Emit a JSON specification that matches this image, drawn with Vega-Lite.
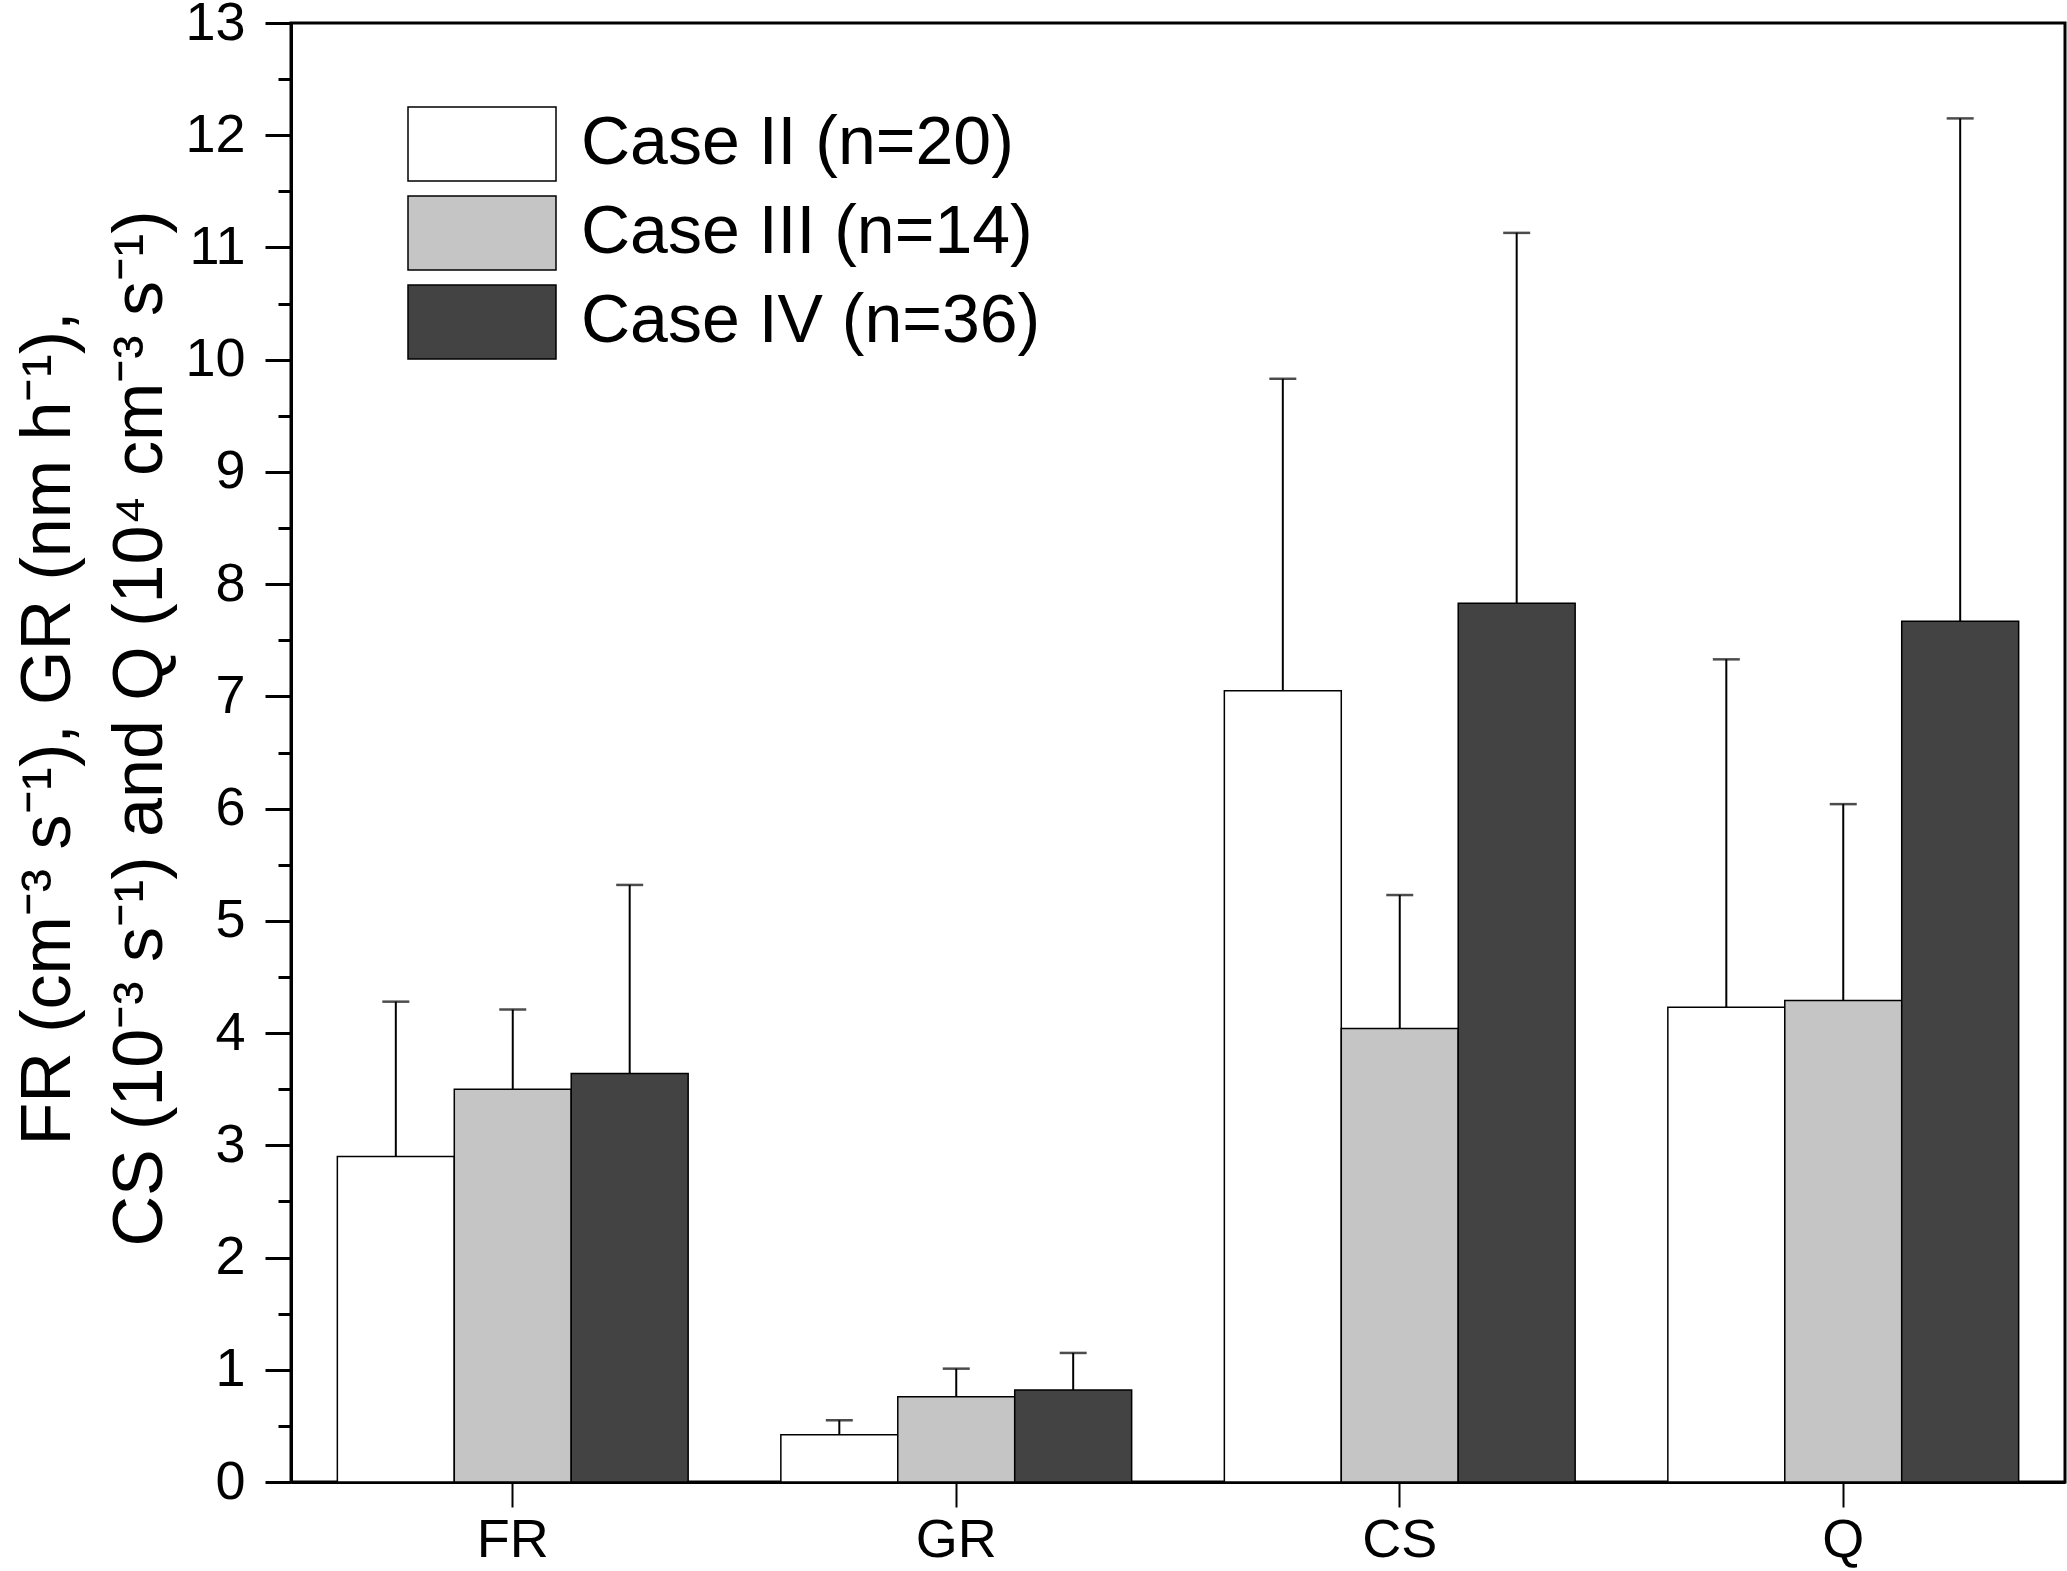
{
  "$schema": "https://vega.github.io/schema/vega-lite/v6.json",
  "autosize": {"type": "none"},
  "padding": {"left": 291, "top": 23, "right": 2, "bottom": 89},
  "width": 1774,
  "height": 1459,
  "config": {
    "font": "Liberation Sans",
    "view": {"stroke": "black", "strokeWidth": 3},
    "axis": {"labelColor": "black", "titleColor": "black", "domainColor": "black", "tickColor": "black", "grid": false}
  },
  "data": {
    "values": [
      {"param": "FR", "case": "Case II (n=20)", "mean": 2.90, "upper": 4.28},
      {"param": "FR", "case": "Case III (n=14)", "mean": 3.50, "upper": 4.21},
      {"param": "FR", "case": "Case IV (n=36)", "mean": 3.64, "upper": 5.32},
      {"param": "GR", "case": "Case II (n=20)", "mean": 0.42, "upper": 0.55},
      {"param": "GR", "case": "Case III (n=14)", "mean": 0.76, "upper": 1.01},
      {"param": "GR", "case": "Case IV (n=36)", "mean": 0.82, "upper": 1.15},
      {"param": "CS", "case": "Case II (n=20)", "mean": 7.05, "upper": 9.83},
      {"param": "CS", "case": "Case III (n=14)", "mean": 4.04, "upper": 5.23},
      {"param": "CS", "case": "Case IV (n=36)", "mean": 7.83, "upper": 11.13},
      {"param": "Q", "case": "Case II (n=20)", "mean": 4.23, "upper": 7.33},
      {"param": "Q", "case": "Case III (n=14)", "mean": 4.29, "upper": 6.04},
      {"param": "Q", "case": "Case IV (n=36)", "mean": 7.67, "upper": 12.15}
    ]
  },
  "encoding": {
    "x": {
      "field": "param",
      "type": "nominal",
      "sort": ["FR", "GR", "CS", "Q"],
      "scale": {"paddingInner": 0.209, "paddingOuter": 0.1045},
      "axis": {
        "title": null,
        "labelAngle": 0,
        "labelFontSize": 54,
        "labelPadding": 6,
        "tickSize": 25,
        "tickWidth": 2,
        "domainWidth": 3
      }
    },
    "xOffset": {
      "field": "case",
      "type": "nominal",
      "sort": ["Case II (n=20)", "Case III (n=14)", "Case IV (n=36)"],
      "scale": {"paddingInner": 0, "paddingOuter": 0}
    }
  },
  "layer": [
    {
      "mark": {"type": "rule", "color": "black", "strokeWidth": 2},
      "encoding": {
        "y": {"field": "mean", "type": "quantitative", "axis": null},
        "y2": {"field": "upper"}
      }
    },
    {
      "mark": {"type": "tick", "color": "black", "size": 27, "thickness": 2.5, "orient": "horizontal"},
      "encoding": {
        "y": {
          "field": "upper",
          "type": "quantitative",
          "scale": {"domain": [0, 13], "nice": false, "zero": true},
          "axis": {
            "orient": "left",
            "values": [0.5, 1.5, 2.5, 3.5, 4.5, 5.5, 6.5, 7.5, 8.5, 9.5, 10.5, 11.5, 12.5],
            "labels": false,
            "domain": false,
            "title": null,
            "tickSize": 13,
            "tickWidth": 3
          }
        }
      }
    },
    {
      "mark": {"type": "bar", "stroke": "black", "strokeWidth": 1.5},
      "encoding": {
        "y": {
          "field": "mean",
          "type": "quantitative",
          "scale": {"domain": [0, 13], "nice": false},
          "axis": {
            "orient": "left",
            "values": [0, 1, 2, 3, 4, 5, 6, 7, 8, 9, 10, 11, 12, 13],
            "labelFontSize": 54,
            "labelPadding": 20,
            "tickSize": 26,
            "tickWidth": 3,
            "domainWidth": 3,
            "title": ["FR (cm⁻³ s⁻¹), GR (nm h⁻¹),", "CS (10⁻³ s⁻¹) and Q (10⁴ cm⁻³ s⁻¹)"],
            "titleFontSize": 70,
            "titleFontWeight": "normal",
            "titleLineHeight": 92,
            "titleAngle": -90,
            "titleAlign": "center",
            "titleBaseline": "alphabetic",
            "titleX": -222,
            "titleY": 705
          }
        },
        "fill": {
          "field": "case",
          "type": "nominal",
          "scale": {
            "domain": ["Case II (n=20)", "Case III (n=14)", "Case IV (n=36)"],
            "range": ["#ffffff", "#c5c5c5", "#434343"]
          },
          "legend": {
            "title": null,
            "orient": "none",
            "legendX": 153,
            "legendY": 83,
            "padding": 0,
            "symbolType": "M-2,-1H2V1H-2Z",
            "symbolSize": 5476,
            "symbolStrokeColor": "black",
            "symbolStrokeWidth": 1.5,
            "symbolOpacity": 1,
            "labelFontSize": 68,
            "labelColor": "black",
            "labelOffset": 61,
            "labelLimit": 800,
            "rowPadding": 9
          }
        }
      }
    }
  ],
  "resolve": {"axis": {"y": "independent"}}
}
